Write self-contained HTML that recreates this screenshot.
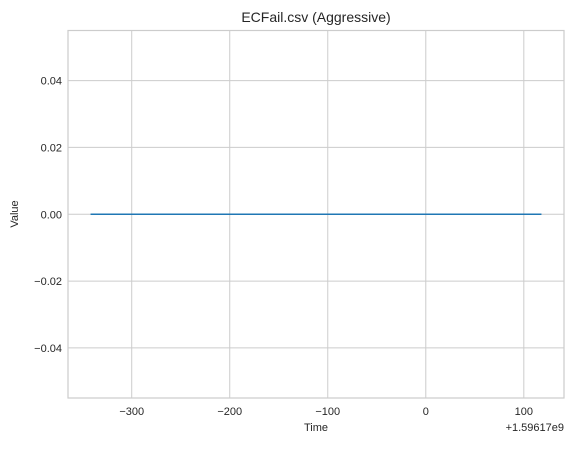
<!DOCTYPE html>
<html><head><meta charset="utf-8"><style>
body{margin:0;background:#fff;font-family:"Liberation Sans",sans-serif}
svg text{fill:#262626;font-family:"Liberation Sans",sans-serif}
</style></head><body>
<svg id="c" width="573" height="444"></svg>
<script>
const xs=[-342,118];
const ys=[0,0];
const xTicks=[-300,-200,-100,0,100];
const yTicks=[-0.04,-0.02,0.00,0.02,0.04];
const L=68,R=564,T=30.5,B=398;
const xmin=-365,xmax=141,ymin=-0.055,ymax=0.055;
const X=v=>L+(v-xmin)/(xmax-xmin)*(R-L);
const Y=v=>B-(v-ymin)/(ymax-ymin)*(B-T);
const s=document.getElementById('c');const NS='http://www.w3.org/2000/svg';
function mk(t,a,p){const e=document.createElementNS(NS,t);for(const k in a)e.setAttribute(k,a[k]);(p||s).appendChild(e);return e;}
const grid=mk('g',{});


xTicks.forEach(v=>{const l=mk('line',{x1:X(v),x2:X(v),y1:T,y2:B,stroke:'#cccccc','stroke-width':1},grid);


const t=mk('text',{x:X(v),y:B+17,'text-anchor':'middle','font-size':11});t.textContent=(v<0?'\u2212'+(-v):v);

});
yTicks.forEach(v=>{const l=mk('line',{x1:L,x2:R,y1:Y(v),y2:Y(v),stroke:'#cccccc','stroke-width':1},grid);


const t=mk('text',{x:L-6,y:Y(v)+4,'text-anchor':'end','font-size':11});t.textContent=(v<0?'\u2212':'')+Math.abs(v).toFixed(2);

});
const fr=mk('rect',{x:L,y:T,width:R-L,height:B-T,fill:'none',stroke:'#cccccc','stroke-width':1.2});


const ln=mk('polyline',{points:xs.map((x,i)=>X(x)+','+Y(ys[i])).join(' '),fill:'none',stroke:'#1f77b4','stroke-width':1.6});


const tt=mk('text',{x:(L+R)/2,y:22,'text-anchor':'middle','font-size':14});tt.textContent='ECFail.csv (Aggressive)';


const xl=mk('text',{x:316,y:431,'text-anchor':'middle','font-size':11});xl.textContent='Time';


const off=mk('text',{x:R,y:431,'text-anchor':'end','font-size':11});off.textContent='+1.59617e9';


const yl=mk('text',{x:18,y:214,'text-anchor':'middle','font-size':11,transform:'rotate(-90 18 214)'});yl.textContent='Value';


</script>
</body></html>
